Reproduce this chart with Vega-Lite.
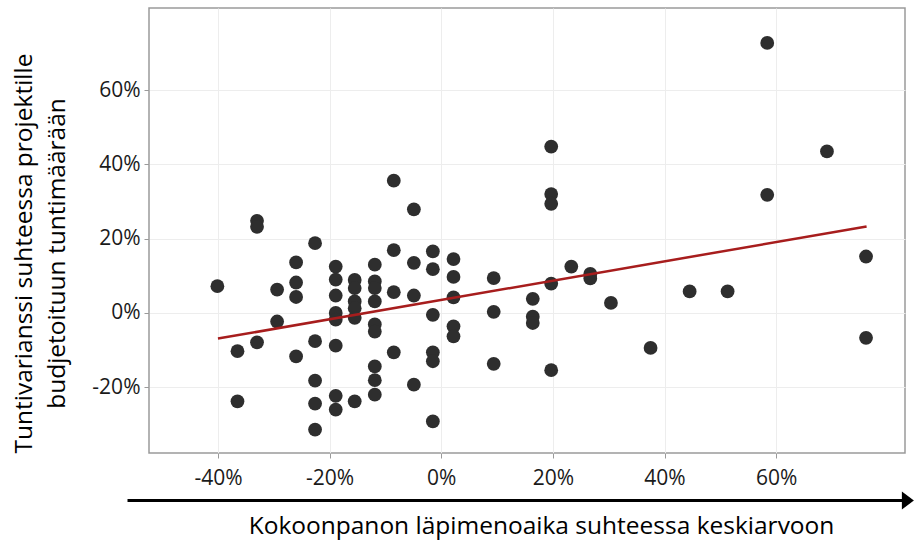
{
  "$schema": "https://vega.github.io/schema/vega-lite/v6.json",
  "width": 756,
  "height": 445,
  "autosize": {"type": "none"},
  "padding": {"left": 149, "top": 8, "right": 10, "bottom": 87},
  "background": "white",
  "config": {
    "view": {"stroke": "#9a9a9a", "strokeWidth": 1.5},
    "axis": {
      "grid": true,
      "gridColor": "#ededed",
      "gridWidth": 1,
      "domain": false,
      "tickColor": "#9a9a9a",
      "tickSize": 5,
      "labelFont": "Open Sans",
      "labelFontSize": 21,
      "labelColor": "#1a1a1a",
      "titleFont": "Open Sans",
      "titleFontSize": 24.5,
      "titleFontWeight": "normal",
      "titleColor": "#000000"
    }
  },
  "datasets": {
    "points": [
      {"x": -40.1, "y": 7.2}, {"x": -36.5, "y": -10.3}, {"x": -36.5, "y": -23.8},
      {"x": -33.0, "y": 24.8}, {"x": -33.0, "y": 23.2}, {"x": -33.0, "y": -7.9},
      {"x": -29.4, "y": 6.3}, {"x": -29.4, "y": -2.3},
      {"x": -26.0, "y": 13.6}, {"x": -26.0, "y": 8.2}, {"x": -26.0, "y": 4.3}, {"x": -26.0, "y": -11.7},
      {"x": -22.6, "y": 18.8}, {"x": -22.6, "y": -7.6}, {"x": -22.6, "y": -18.2}, {"x": -22.6, "y": -24.4}, {"x": -22.6, "y": -31.4},
      {"x": -18.9, "y": 12.5}, {"x": -18.9, "y": 9.0}, {"x": -18.9, "y": 4.7}, {"x": -18.9, "y": 0.0}, {"x": -18.9, "y": -1.8}, {"x": -18.9, "y": -8.8}, {"x": -18.9, "y": -22.3}, {"x": -18.9, "y": -26.0},
      {"x": -15.5, "y": 8.9}, {"x": -15.5, "y": 6.7}, {"x": -15.5, "y": 3.1}, {"x": -15.5, "y": 1.3}, {"x": -15.5, "y": -1.3}, {"x": -15.5, "y": -23.8},
      {"x": -11.9, "y": 13.0}, {"x": -11.9, "y": 8.5}, {"x": -11.9, "y": 6.7}, {"x": -11.9, "y": 3.1}, {"x": -11.9, "y": -3.1}, {"x": -11.9, "y": -5.0}, {"x": -11.9, "y": -14.4}, {"x": -11.9, "y": -18.1}, {"x": -11.9, "y": -22.0},
      {"x": -8.5, "y": 35.6}, {"x": -8.5, "y": 16.9}, {"x": -8.5, "y": 5.6}, {"x": -8.5, "y": -10.6},
      {"x": -4.9, "y": 27.9}, {"x": -4.9, "y": 13.5}, {"x": -4.9, "y": 4.7}, {"x": -4.9, "y": -19.3},
      {"x": -1.5, "y": 16.6}, {"x": -1.5, "y": 11.8}, {"x": -1.5, "y": -0.5}, {"x": -1.5, "y": -10.6}, {"x": -1.5, "y": -13.0}, {"x": -1.5, "y": -29.2},
      {"x": 2.2, "y": 14.5}, {"x": 2.2, "y": 9.7}, {"x": 2.2, "y": 4.2}, {"x": 2.2, "y": -3.6}, {"x": 2.2, "y": -6.3},
      {"x": 9.4, "y": 9.4}, {"x": 9.4, "y": 0.3}, {"x": 9.4, "y": -13.7},
      {"x": 16.4, "y": 3.8}, {"x": 16.4, "y": -1.0}, {"x": 16.4, "y": -2.7},
      {"x": 19.7, "y": 44.8}, {"x": 19.7, "y": 32.0}, {"x": 19.7, "y": 29.4}, {"x": 19.7, "y": 7.9}, {"x": 19.7, "y": -15.4},
      {"x": 23.3, "y": 12.5}, {"x": 26.7, "y": 10.5}, {"x": 26.7, "y": 9.3}, {"x": 30.4, "y": 2.7},
      {"x": 37.5, "y": -9.4}, {"x": 44.5, "y": 5.8}, {"x": 51.3, "y": 5.8},
      {"x": 58.4, "y": 72.7}, {"x": 58.4, "y": 31.8}, {"x": 69.1, "y": 43.5},
      {"x": 76.1, "y": 15.2}, {"x": 76.1, "y": -6.7}
    ],
    "trend": [{"x": -40.0, "y": -6.9}, {"x": 76.2, "y": 23.3}],
    "arrow": [{"x1": -56.2, "x2": 82.8, "y": -50.5, "tip": 83.6}]
  },
  "layer": [
    {
      "data": {"name": "points"},
      "mark": {"type": "circle", "size": 190, "color": "#2e2e2e", "opacity": 1, "clip": false},
      "encoding": {
        "x": {
          "field": "x", "type": "quantitative",
          "scale": {"domain": [-52.35, 83.08], "nice": false, "zero": false},
          "axis": {
            "values": [-40, -20, 0, 20, 40, 60],
            "labelExpr": "datum.value + '%'",
            "labelPadding": 9,
            "title": "Kokoonpanon läpimenoaika suhteessa keskiarvoon",
            "titleX": 392,
            "titleY": 61,
            "titleAlign": "center"
          }
        },
        "y": {
          "field": "y", "type": "quantitative",
          "scale": {"domain": [-37.7, 82.1], "nice": false, "zero": false},
          "axis": {
            "values": [-20, 0, 20, 40, 60],
            "labelExpr": "datum.value + '%'",
            "labelPadding": 4,
            "title": ["Tuntivarianssi suhteessa projektille", "budjetoituun tuntimäärään"],
            "titleLineHeight": 33,
            "titleX": -113,
            "titleY": 245,
            "titleAlign": "center"
          }
        }
      }
    },
    {
      "data": {"name": "trend"},
      "mark": {"type": "line", "color": "#a71d1d", "strokeWidth": 2.5, "clip": false},
      "encoding": {
        "x": {"field": "x", "type": "quantitative"},
        "y": {"field": "y", "type": "quantitative"}
      }
    },
    {
      "data": {"name": "arrow"},
      "mark": {"type": "rule", "color": "#000000", "strokeWidth": 3, "clip": false},
      "encoding": {
        "x": {"field": "x1", "type": "quantitative"},
        "x2": {"field": "x2"},
        "y": {"field": "y", "type": "quantitative"}
      }
    },
    {
      "data": {"name": "arrow"},
      "mark": {"type": "point", "shape": "M-1,-1.5L1,0L-1,1.5Z", "size": 144, "filled": true, "color": "#000000", "opacity": 1, "clip": false},
      "encoding": {
        "x": {"field": "tip", "type": "quantitative"},
        "y": {"field": "y", "type": "quantitative"}
      }
    }
  ]
}
